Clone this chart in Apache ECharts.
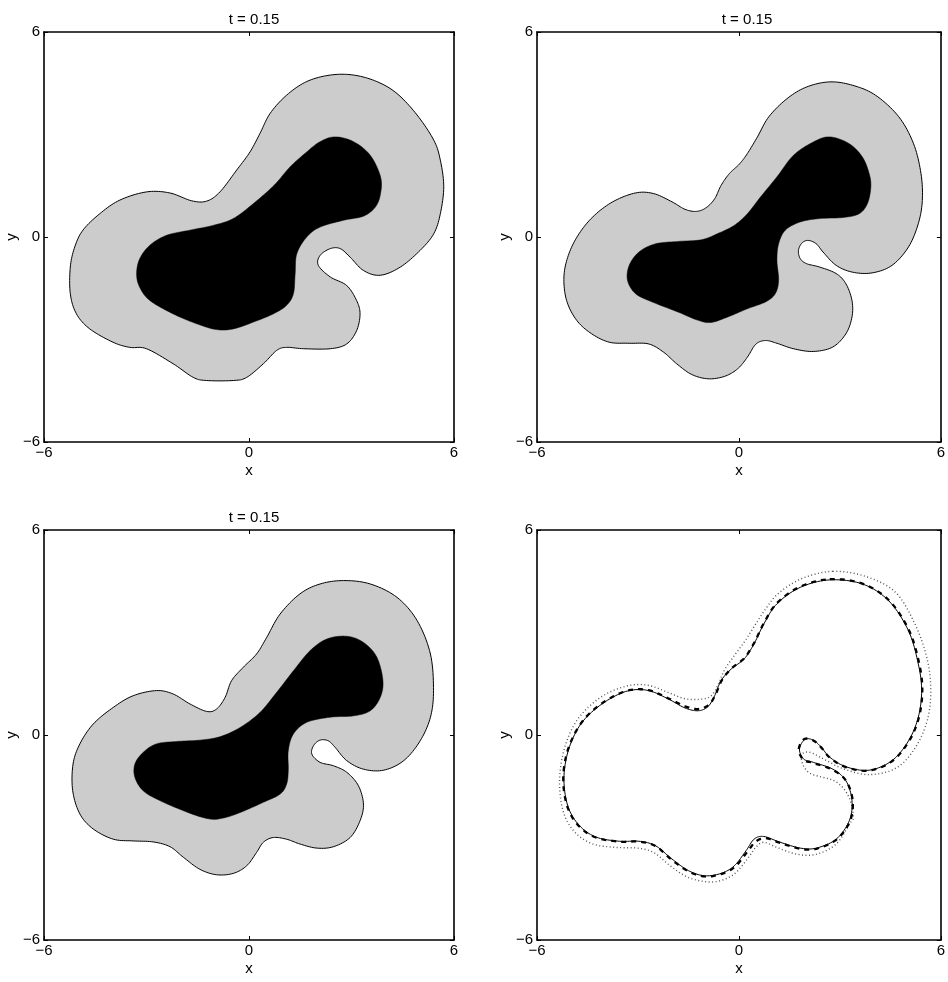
<!DOCTYPE html>
<html>
<head>
<meta charset="utf-8">
<script src="https://cdn.jsdelivr.net/npm/echarts@6/dist/echarts.min.js"></script>
<style>html,body{margin:0;padding:0;background:#fff;}#c{width:948px;height:982px;}</style>
</head>
<body>
<div id="c"></div>
<script>
// ---- data ----
const tickValues = [-6, 0, 6];
const panelTitles = ['t = 0.15', 't = 0.15', 't = 0.15', ''];
const axisNames = ['x', 'y'];

// Panel 1 (top-left): grey region outline and black core
const outerTL = [[2.38,4.74],[3.06,4.74],[3.74,4.55],[4.33,4.20],[4.92,3.57],[5.41,2.83],[5.60,2.25],[5.70,1.47],[5.60,0.68],[5.41,0.10],[5.01,-0.39],[4.43,-0.88],[3.84,-1.12],[3.35,-0.98],[2.96,-0.59],[2.67,-0.34],[2.38,-0.34],[2.08,-0.54],[2.03,-0.83],[2.38,-1.17],[2.86,-1.42],[3.15,-1.86],[3.25,-2.25],[3.15,-2.74],[2.86,-3.13],[2.38,-3.27],[1.60,-3.27],[1.10,-3.23],[0.81,-3.32],[0.42,-3.71],[-0.07,-4.11],[-0.46,-4.20],[-1.24,-4.20],[-1.63,-4.11],[-2.22,-3.71],[-3.00,-3.27],[-3.49,-3.23],[-3.98,-3.08],[-4.66,-2.69],[-5.05,-2.25],[-5.23,-1.66],[-5.23,-0.88],[-5.10,-0.29],[-4.86,0.20],[-4.37,0.68],[-3.78,1.08],[-3.00,1.32],[-2.32,1.29],[-1.68,1.06],[-1.24,1.05],[-0.85,1.32],[-0.36,1.96],[0.03,2.49],[0.32,3.03],[0.62,3.62],[1.10,4.15],[1.69,4.55]];
const innerTL = [[2.52,2.93],[3.06,2.79],[3.55,2.39],[3.85,1.76],[3.85,1.27],[3.70,0.88],[3.35,0.61],[2.77,0.49],[2.08,0.29],[1.69,0.00],[1.40,-0.49],[1.35,-1.08],[1.30,-1.66],[1.10,-2.00],[0.71,-2.25],[0.13,-2.49],[-0.46,-2.69],[-0.95,-2.71],[-1.53,-2.54],[-2.22,-2.25],[-2.90,-1.86],[-3.20,-1.47],[-3.29,-1.08],[-3.20,-0.64],[-2.90,-0.24],[-2.41,0.05],[-1.73,0.20],[-1.05,0.34],[-0.46,0.54],[0.13,0.98],[0.74,1.52],[1.20,2.05],[1.69,2.49],[2.08,2.79]];

// Panel 2 (top-right)
const outerTR = [[2.70,4.54],[3.38,4.44],[4.06,4.15],[4.75,3.52],[5.19,2.73],[5.41,1.86],[5.45,1.07],[5.33,0.39],[5.04,-0.29],[4.55,-0.83],[3.96,-1.05],[3.38,-1.03],[2.89,-0.83],[2.50,-0.44],[2.30,-0.20],[2.06,-0.10],[1.87,-0.18],[1.77,-0.39],[1.82,-0.63],[2.01,-0.78],[2.40,-0.88],[2.89,-1.07],[3.18,-1.37],[3.36,-1.86],[3.36,-2.34],[3.18,-2.83],[2.79,-3.22],[2.21,-3.35],[1.62,-3.27],[1.13,-3.11],[0.79,-3.03],[0.50,-3.14],[0.25,-3.52],[-0.04,-3.86],[-0.43,-4.08],[-0.92,-4.15],[-1.41,-4.02],[-1.85,-3.71],[-2.24,-3.37],[-2.68,-3.13],[-3.26,-3.11],[-3.85,-3.08],[-4.38,-2.83],[-4.82,-2.44],[-5.12,-1.86],[-5.20,-1.17],[-5.07,-0.54],[-4.78,0.05],[-4.34,0.59],[-3.75,1.03],[-3.07,1.29],[-2.53,1.27],[-1.99,1.03],[-1.60,0.81],[-1.26,0.75],[-0.97,0.86],[-0.72,1.12],[-0.53,1.51],[-0.28,1.86],[0.01,2.13],[0.25,2.44],[0.55,2.93],[0.89,3.52],[1.43,4.05],[2.01,4.39]];
const innerTR = [[2.70,2.93],[3.28,2.73],[3.67,2.34],[3.87,1.86],[3.92,1.46],[3.82,0.98],[3.57,0.68],[3.09,0.57],[2.40,0.54],[1.82,0.44],[1.38,0.20],[1.18,-0.20],[1.13,-0.68],[1.18,-1.27],[1.08,-1.66],[0.79,-1.90],[0.25,-2.10],[-0.33,-2.34],[-0.82,-2.50],[-1.21,-2.44],[-1.80,-2.20],[-2.58,-1.90],[-3.07,-1.66],[-3.31,-1.27],[-3.26,-0.83],[-2.97,-0.44],[-2.48,-0.20],[-1.80,-0.13],[-1.11,-0.08],[-0.63,0.10],[-0.14,0.34],[0.25,0.68],[0.64,1.17],[1.13,1.76],[1.62,2.39],[2.21,2.78]];

// Panel 3 (bottom-left)
const outerBL = [[2.77,4.52],[3.55,4.42],[4.33,4.03],[4.92,3.35],[5.31,2.37],[5.40,1.30],[5.31,0.52],[5.01,-0.17],[4.53,-0.75],[3.94,-1.03],[3.35,-1.00],[2.86,-0.75],[2.52,-0.36],[2.32,-0.17],[2.08,-0.15],[1.89,-0.31],[1.84,-0.56],[2.08,-0.80],[2.47,-0.90],[2.86,-1.09],[3.20,-1.48],[3.35,-2.02],[3.25,-2.51],[2.96,-3.00],[2.47,-3.27],[1.98,-3.31],[1.49,-3.19],[1.10,-3.05],[0.71,-3.00],[0.42,-3.14],[0.22,-3.44],[-0.07,-3.83],[-0.46,-4.05],[-0.95,-4.09],[-1.44,-3.93],[-1.92,-3.58],[-2.31,-3.27],[-2.80,-3.13],[-3.39,-3.10],[-3.97,-3.05],[-4.56,-2.75],[-4.95,-2.31],[-5.16,-1.63],[-5.15,-0.85],[-4.95,-0.26],[-4.56,0.32],[-3.97,0.81],[-3.39,1.15],[-2.71,1.30],[-2.22,1.20],[-1.73,0.91],[-1.24,0.69],[-0.95,0.76],[-0.70,1.10],[-0.51,1.59],[-0.17,1.98],[0.22,2.37],[0.52,2.86],[0.91,3.54],[1.49,4.13],[2.08,4.42]];
const innerBL = [[2.86,2.89],[3.35,2.71],[3.74,2.28],[3.92,1.59],[3.84,1.10],[3.55,0.71],[3.06,0.56],[2.37,0.52],[1.69,0.37],[1.30,0.03],[1.15,-0.46],[1.15,-1.04],[1.10,-1.44],[0.91,-1.73],[0.42,-1.97],[-0.26,-2.27],[-0.75,-2.43],[-1.14,-2.46],[-1.73,-2.29],[-2.61,-1.92],[-3.10,-1.63],[-3.34,-1.24],[-3.34,-0.85],[-3.10,-0.51],[-2.71,-0.26],[-2.12,-0.19],[-1.44,-0.15],[-0.85,-0.05],[-0.26,0.22],[0.32,0.66],[0.81,1.25],[1.30,1.88],[1.79,2.47],[2.28,2.81]];

// Panel 4 (bottom-right): three fronts
const solidBR = [[2.70,4.54],[3.67,4.42],[4.45,3.93],[5.04,3.05],[5.33,2.08],[5.43,1.30],[5.33,0.52],[5.04,-0.17],[4.55,-0.75],[3.87,-1.03],[3.18,-0.93],[2.70,-0.65],[2.45,-0.36],[2.21,-0.15],[1.96,-0.13],[1.80,-0.41],[1.92,-0.70],[2.21,-0.80],[2.79,-1.00],[3.18,-1.34],[3.36,-1.92],[3.28,-2.51],[2.89,-3.05],[2.30,-3.31],[1.82,-3.31],[1.23,-3.14],[0.74,-2.97],[0.45,-3.05],[0.21,-3.39],[-0.14,-3.83],[-0.53,-4.05],[-1.02,-4.12],[-1.50,-3.97],[-1.99,-3.63],[-2.48,-3.24],[-2.97,-3.11],[-3.55,-3.11],[-4.24,-2.99],[-4.73,-2.66],[-5.07,-2.12],[-5.20,-1.34],[-5.10,-0.56],[-4.82,0.13],[-4.43,0.62],[-3.85,1.05],[-3.26,1.30],[-2.68,1.30],[-2.09,1.05],[-1.60,0.79],[-1.21,0.71],[-0.92,0.83],[-0.72,1.15],[-0.53,1.59],[-0.23,1.93],[0.16,2.23],[0.45,2.67],[0.74,3.25],[1.13,3.84],[1.82,4.32]];
const dashedBR = [[2.70,4.56],[3.67,4.43],[4.47,3.93],[5.06,3.05],[5.36,2.08],[5.45,1.30],[5.35,0.52],[5.06,-0.17],[4.56,-0.76],[3.87,-1.04],[3.18,-0.94],[2.70,-0.66],[2.45,-0.37],[2.21,-0.16],[1.94,-0.12],[1.78,-0.41],[1.91,-0.72],[2.21,-0.82],[2.79,-1.02],[3.19,-1.35],[3.38,-1.92],[3.30,-2.52],[2.90,-3.06],[2.30,-3.33],[1.82,-3.33],[1.23,-3.16],[0.80,-3.02],[0.50,-3.12],[0.24,-3.43],[-0.12,-3.86],[-0.53,-4.07],[-1.02,-4.14],[-1.52,-3.98],[-2.01,-3.64],[-2.48,-3.25],[-2.97,-3.12],[-3.55,-3.12],[-4.25,-3.00],[-4.75,-2.67],[-5.09,-2.12],[-5.22,-1.34],[-5.12,-0.56],[-4.83,0.13],[-4.44,0.63],[-3.86,1.06],[-3.26,1.31],[-2.68,1.31],[-2.09,1.07],[-1.60,0.84],[-1.21,0.76],[-0.90,0.88],[-0.70,1.17],[-0.51,1.60],[-0.22,1.95],[0.16,2.25],[0.45,2.69],[0.74,3.27],[1.13,3.86],[1.82,4.34]];
const dottedBR = [[2.79,4.79],[3.77,4.64],[4.65,4.18],[5.23,3.25],[5.58,2.28],[5.70,1.40],[5.62,0.52],[5.28,-0.31],[4.70,-0.95],[3.87,-1.16],[3.08,-0.98],[2.55,-0.72],[2.08,-0.50],[1.85,-0.63],[2.08,-1.10],[2.87,-1.36],[3.26,-1.80],[3.40,-2.39],[3.28,-2.61],[2.89,-3.19],[2.30,-3.49],[1.72,-3.49],[1.13,-3.29],[0.74,-3.14],[0.50,-3.29],[0.25,-3.63],[-0.14,-4.07],[-0.58,-4.27],[-1.02,-4.29],[-1.55,-4.15],[-2.04,-3.83],[-2.53,-3.44],[-3.02,-3.31],[-3.65,-3.29],[-4.34,-3.19],[-4.87,-2.85],[-5.21,-2.27],[-5.33,-1.44],[-5.23,-0.56],[-4.94,0.22],[-4.53,0.76],[-3.95,1.20],[-3.26,1.45],[-2.68,1.45],[-2.09,1.24],[-1.60,1.06],[-1.11,1.05],[-0.82,1.15],[-0.63,1.45],[-0.43,1.90],[-0.14,2.32],[0.20,2.78],[0.50,3.25],[0.80,3.70],[1.18,4.15],[1.87,4.58]];

// ---- layout ----
const FONT = '"Liberation Sans", Arial, Helvetica, sans-serif';
const FS = 15;
const grids = [
  {left: 44, top: 32, width: 410, height: 410},
  {left: 537, top: 32, width: 410, height: 410},
  {left: 44, top: 530, width: 410, height: 410},
  {left: 537, top: 530, width: 410, height: 410}
];
const titleTops = [7, 7, 505, 505];
const fmt = v => String(v).replace('-', '\u2212');

const xAxes = [], yAxes = [], titles = [];
grids.forEach((g, i) => {
  const common = {
    gridIndex: i, type: 'value', min: tickValues[0], max: tickValues[2],
    interval: tickValues[1] - tickValues[0], splitLine: {show: false},
    axisLine: {show: true, onZero: false, lineStyle: {color: '#000', width: 1.6}},
    axisTick: {show: true, inside: true, length: 4, lineStyle: {color: '#000', width: 1}}
  };
  xAxes.push(Object.assign({}, common, {
    position: 'bottom', name: axisNames[0], nameLocation: 'middle', nameGap: 21,
    nameTextStyle: {fontFamily: FONT, fontSize: FS, color: '#000'},
    axisLabel: {margin: 3, fontFamily: FONT, fontSize: FS, color: '#000', formatter: fmt}
  }));
  xAxes.push(Object.assign({}, common, {position: 'top', axisLabel: {show: false}}));
  yAxes.push(Object.assign({}, common, {
    position: 'left', name: axisNames[1], nameLocation: 'middle', nameGap: 24,
    nameTextStyle: {fontFamily: FONT, fontSize: FS, color: '#000'},
    axisLabel: {margin: 4, fontFamily: FONT, fontSize: FS, color: '#000', formatter: fmt}
  }));
  yAxes.push(Object.assign({}, common, {position: 'right', axisLabel: {show: false}}));
  if (panelTitles[i]) {
    titles.push({
      text: panelTitles[i], left: g.left + g.width / 2, top: titleTops[i], textAlign: 'center',
      textStyle: {fontFamily: FONT, fontSize: FS, fontWeight: 'normal', color: '#000'}
    });
  }
});

// closed Catmull-Rom curve through pixel points (pure rendering of the outline)
function closedSpline(P, steps) {
  const n = P.length, out = [];
  for (let i = 0; i < n; i++) {
    const p0 = P[(i - 1 + n) % n], p1 = P[i], p2 = P[(i + 1) % n], p3 = P[(i + 2) % n];
    for (let s = 0; s < steps; s++) {
      const t = s / steps, t2 = t * t, t3 = t2 * t;
      const f = (a, b, c, d) => 0.5 * ((2 * b) + (-a + c) * t + (2 * a - 5 * b + 4 * c - d) * t2 + (-a + 3 * b - 3 * c + d) * t3);
      out.push([f(p0[0], p1[0], p2[0], p3[0]), f(p0[1], p1[1], p2[1], p3[1])]);
    }
  }
  return out;
}

function shapeSeries(panel, pts, style, z) {
  return {
    type: 'custom', coordinateSystem: 'cartesian2d',
    xAxisIndex: panel * 2, yAxisIndex: panel * 2, silent: true, z: z || 2,
    data: pts,
    renderItem: function (params, api) {
      if (params.dataIndex !== 0) return null;
      const points = closedSpline(pts.map(p => api.coord(p)), 10);
      return {type: 'polygon', shape: {points: points}, style: style};
    }
  };
}

const grey = {fill: '#cccccc', stroke: '#000', lineWidth: 1};
const black = {fill: '#000', stroke: '#000', lineWidth: 0.5};

const series = [
  shapeSeries(0, outerTL, grey),
  shapeSeries(0, innerTL, black),
  shapeSeries(1, outerTR, grey),
  shapeSeries(1, innerTR, black),
  shapeSeries(2, outerBL, grey),
  shapeSeries(2, innerBL, black),
  shapeSeries(3, dottedBR, {fill: 'none', stroke: '#555', lineWidth: 1.4, lineDash: [1, 2.5]}),
  shapeSeries(3, dashedBR, {fill: 'none', stroke: '#000', lineWidth: 2.3, lineDash: [5, 5]}),
  shapeSeries(3, solidBR, {fill: 'none', stroke: '#000', lineWidth: 1})
];

const chart = echarts.init(document.getElementById('c'), null, {renderer: 'canvas'});
chart.setOption({
  animation: false,
  backgroundColor: '#fff',
  title: titles,
  grid: grids,
  xAxis: xAxes,
  yAxis: yAxes,
  series: series
});
</script>
</body>
</html>
